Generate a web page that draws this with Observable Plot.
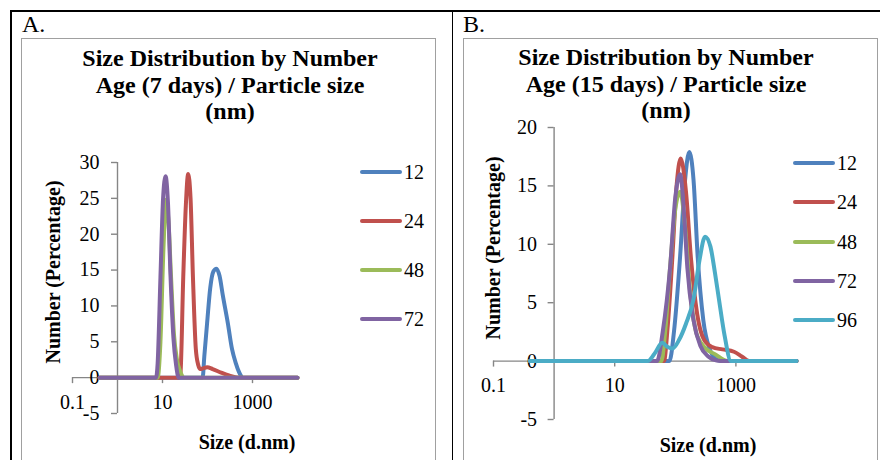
<!DOCTYPE html>
<html><head><meta charset="utf-8">
<script src="https://cdn.jsdelivr.net/npm/d3@7"></script>
<script src="https://cdn.jsdelivr.net/npm/@observablehq/plot@0.6"></script>
<style>
body{margin:0;background:#fff;}
#root{position:relative;width:880px;height:460px;overflow:hidden;font-family:"Liberation Serif","Times New Roman",serif;color:#000;}
.abs{position:absolute;}
.title{position:absolute;font-weight:bold;font-size:24px;line-height:26.5px;text-align:center;white-space:nowrap;}
.axt{position:absolute;font-weight:bold;font-size:20px;white-space:nowrap;}
.lg{position:absolute;font-size:20px;white-space:nowrap;}
</style></head><body><div id="root"></div><script>
// ---- Data ----
const seriesNames = ["12", "24", "48", "72", "96"];
const seriesColors = ["#4F81BD", "#C0504D", "#9BBB59", "#8064A2", "#4BACC6"];
const xTickValues = [0.1, 10, 1000];
const xTickLabels = ["0.1", "10", "1000"];
const yTicksA = [-5, 0, 5, 10, 15, 20, 25, 30];
const yTicksB = [-5, 0, 5, 10, 15, 20];

// Panel A (7 days)
const sizesA12 = [0.4, 60, 78, 85, 98, 115, 135, 158, 185, 220, 283, 350, 427, 500, 560, 600, 10000];
const valuesA12 = [0, 0, 0, 3, 7.6, 12.5, 14.8, 15.2, 14.2, 11.4, 7.6, 4, 2, 0.8, 0.2, 0, 0];
const sizesA24 = [0.4, 23, 25, 28.9, 33, 37.2, 42, 47.5, 55, 62, 69, 80, 98, 130, 200, 300, 500, 10000];
const valuesA24 = [0, 0, 0.5, 14, 24, 28.4, 25, 14, 4, 1.8, 1.2, 1.3, 1.45, 1.2, 0.7, 0.3, 0, 0];
const sizesA48 = [0.4, 7.8, 9, 10.5, 12, 13.5, 15.5, 18, 21, 25, 30, 10000];
const valuesA48 = [0, 0, 5, 18, 24.8, 22, 14, 6, 2.5, 0.8, 0, 0];
const sizesA72 = [0.4, 7.2, 7.8, 9, 10.3, 11.7, 13.2, 15.1, 17.5, 20, 23, 10000];
const valuesA72 = [0, 0, 2, 14, 25, 28.1, 24.5, 14, 5.5, 1.8, 0, 0];

// Panel B (15 days)
const sizesB12 = [0.4, 70, 80, 95, 120, 145, 170, 200, 234, 290, 370, 460, 560, 10000];
const valuesB12 = [0, 0, 0, 2.5, 8.95, 15.5, 17.9, 15.5, 8.95, 3.5, 1, 0.2, 0, 0];
const sizesB24 = [0.4, 55, 65, 75, 89, 105, 123, 150, 182, 230, 300, 407, 600, 930, 1250, 1660, 10000];
const valuesB24 = [0, 0, 0, 3, 8.7, 15, 17.35, 14.5, 8.7, 4, 1.8, 1.2, 1.0, 0.8, 0.4, 0, 0];
const sizesB48 = [0.4, 50, 59, 68, 82, 100, 120, 145, 175, 220, 300, 450, 730, 10000];
const valuesB48 = [0, 0, 0, 2.5, 8, 13, 14.5, 11.5, 6, 2.5, 1.2, 0.6, 0, 0];
const sizesB72 = [0.4, 45, 50, 62, 82, 100, 120, 140, 158, 200, 260, 350, 480, 650, 10000];
const valuesB72 = [0, 0, 0, 2.5, 8, 14, 16, 12.5, 8, 3.5, 1.3, 0.4, 0.05, 0, 0];
const sizesB96 = [0.4, 30, 35, 45, 61, 75, 90, 115, 150, 200, 250, 310, 380, 450, 525, 650, 830, 10000];
const valuesB96 = [0, 0, 0, 0.6, 1.57, 1.2, 1.08, 1.8, 3.2, 5.3, 8.6, 10.65, 9.8, 7.6, 5.3, 2.2, 0, 0];

function toRows(sizes, values, name) {
  return sizes.map((s, i) => ({size: s, value: values[i], series: name}));
}
const seriesA = [
  toRows(sizesA12, valuesA12, "12"), toRows(sizesA24, valuesA24, "24"),
  toRows(sizesA48, valuesA48, "48"), toRows(sizesA72, valuesA72, "72")
];
const seriesB = [
  toRows(sizesB12, valuesB12, "12"), toRows(sizesB24, valuesB24, "24"),
  toRows(sizesB48, valuesB48, "48"), toRows(sizesB72, valuesB72, "72"),
  toRows(sizesB96, valuesB96, "96")
];

const axisGray = "#868686";
const root = document.getElementById("root");

function add(html) { root.insertAdjacentHTML("beforeend", html); }

// table borders
add('<div class="abs" style="left:10px;top:10px;width:900px;height:1.5px;background:#000"></div>');
add('<div class="abs" style="left:10px;top:10px;width:1.5px;height:460px;background:#000"></div>');
add('<div class="abs" style="left:451.5px;top:10px;width:1.5px;height:460px;background:#000"></div>');
// chart area boxes
add('<div class="abs" style="left:21px;top:38px;width:413px;height:440px;border:1.5px solid #a0a0a0"></div>');
add('<div class="abs" style="left:463px;top:38px;width:413px;height:440px;border:1.5px solid #a0a0a0"></div>');
// panel letters
add('<div class="abs" style="left:22px;top:11px;font-size:24px;line-height:27px">A.</div>');
add('<div class="abs" style="left:463px;top:11px;font-size:24px;line-height:27px">B.</div>');

function makeChart(cfg) {
  const marks = [
    Plot.ruleY([0], {x1: 0.1, x2: 10000, stroke: axisGray, strokeWidth: 1.4}),
    Plot.ruleX([1], {y1: -5, y2: cfg.ymax, stroke: axisGray, strokeWidth: 1.4}),
    Plot.ruleY(cfg.yTicks, {y: d => d, x1: 1, x2: 1, insetLeft: -6, stroke: axisGray, strokeWidth: 1.4}),
    Plot.ruleX(xTickValues, {x: d => d, y1: 0, y2: 0, insetBottom: -6, stroke: axisGray, strokeWidth: 1.4}),
    Plot.text(cfg.yTicks, {x: 1, y: d => d, text: d => String(d), textAnchor: "end", dx: cfg.ylabDx, fill: "#000"}),
    Plot.text(xTickValues, {x: d => d, y: 0, text: (d, i) => xTickLabels[i], dy: cfg.xlabDy, fill: "#000"})
  ];
  cfg.series.forEach((rows, k) => {
    marks.push(Plot.line(rows, {x: "size", y: "value", stroke: seriesColors[k], strokeWidth: 4,
      curve: "monotone-x", strokeLinejoin: "round", strokeLinecap: "round"}));
  });
  return Plot.plot({
    width: 414, height: 422,
    marginLeft: cfg.ml, marginRight: cfg.mr, marginTop: cfg.mt, marginBottom: cfg.mb,
    x: {type: "log", domain: [0.1, 10000], axis: null},
    y: {domain: [-5, cfg.ymax], axis: null},
    style: {fontFamily: '"Liberation Serif","Times New Roman",serif', fontSize: "20px", background: "transparent", overflow: "visible"},
    marks
  });
}

const chartA = makeChart({series: seriesA, ymax: 30, yTicks: yTicksA, ml: 51, mr: 138, mt: 124, mb: 47, ylabDx: -18, xlabDy: 25});
chartA.style.position = "absolute"; chartA.style.left = "21px"; chartA.style.top = "38px";
root.appendChild(chartA);
const chartB = makeChart({series: seriesB, ymax: 20, yTicks: yTicksB, ml: 30, mr: 81, mt: 89, mb: 41, ylabDx: -17, xlabDy: 24});
chartB.style.position = "absolute"; chartB.style.left = "463px"; chartB.style.top = "38px";
root.appendChild(chartB);

// titles
add('<div class="title" style="left:30px;width:400px;top:45px">Size Distribution by Number<br>Age (7 days) / Particle size<br>(nm)</div>');
add('<div class="title" style="left:466px;width:400px;top:44px">Size Distribution by Number<br>Age (15 days) / Particle size<br>(nm)</div>');

// axis titles
add('<div class="axt" style="left:247px;top:442px;transform:translate(-50%,-50%)">Size (d.nm)</div>');
add('<div class="axt" style="left:53px;top:272px;transform:translate(-50%,-50%) rotate(-90deg)">Number (Percentage)</div>');
add('<div class="axt" style="left:708px;top:445px;transform:translate(-50%,-50%)">Size (d.nm)</div>');
add('<div class="axt" style="left:493px;top:248px;transform:translate(-50%,-50%) rotate(-90deg)">Number (Percentage)</div>');

// legends
function legend(names, x0, ys) {
  names.forEach((n, i) => {
    add(`<div class="abs" style="left:${x0}px;top:${ys[i] - 2}px;width:42px;height:4px;border-radius:2px;background:${seriesColors[i]}"></div>`);
    add(`<div class="lg" style="left:${x0 + 44}px;top:${ys[i]}px;transform:translateY(-50%)">${n}</div>`);
  });
}
legend(seriesNames.slice(0, 4), 360, [172, 221, 270, 319]);
legend(seriesNames, 793, [163, 202, 242, 281, 320]);
</script></body></html>
